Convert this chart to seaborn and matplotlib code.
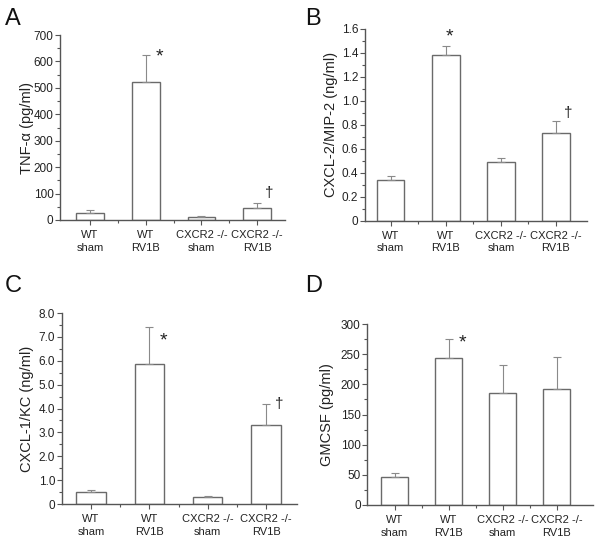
import matplotlib
matplotlib.use("Agg")
import matplotlib.pyplot as plt
import seaborn as sns
import pandas as pd
import numpy as np
from matplotlib.ticker import MultipleLocator, FixedLocator

sns.set_theme(style="ticks")
plt.rcParams['font.family'] = ['Liberation Sans', 'DejaVu Sans']

categories = ["WT\nsham", "WT\nRV1B", "CXCR2 -/-\nsham", "CXCR2 -/-\nRV1B"]

tnf_mean = [25, 522, 12, 45]
tnf_err = [12, 103, 2, 18]

cxcl2_mean = [0.34, 1.38, 0.49, 0.73]
cxcl2_err = [0.035, 0.075, 0.035, 0.105]

cxcl1_mean = [0.50, 5.85, 0.30, 3.33]
cxcl1_err = [0.07, 1.55, 0.02, 0.87]

gmcsf_mean = [47, 243, 186, 192]
gmcsf_err = [6, 32, 46, 53]

panels = [
    dict(letter="A", mean=tnf_mean, err=tnf_err, ylabel="TNF-\u03b1 (pg/ml)",
         ylim=700, major=100, minor=50, fmt=lambda v: f"{v:.0f}",
         rect=[0.100, 0.5956, 0.375, 0.340], xlim=(-0.54, 3.50),
         marks=[(1, 617, "*"), (3, 102, "\u2020")]),
    dict(letter="B", mean=cxcl2_mean, err=cxcl2_err, ylabel="CXCL-2/MIP-2 (ng/ml)",
         ylim=1.6, major=0.2, minor=0.1, fmt=lambda v: "0" if v == 0 else f"{v:.1f}",
         rect=[0.608, 0.594, 0.370, 0.3527], xlim=(-0.47, 3.56),
         marks=[(1, 1.53, "*"), (3, 0.90, "\u2020")]),
    dict(letter="C", mean=cxcl1_mean, err=cxcl1_err, ylabel="CXCL-1/KC (ng/ml)",
         ylim=8.0, major=1.0, minor=0.5, fmt=lambda v: "0" if v == 0 else f"{v:.1f}",
         rect=[0.103, 0.0735, 0.392, 0.351], xlim=(-0.50, 3.53),
         marks=[(1, 6.85, "*"), (3, 4.2, "\u2020")]),
    dict(letter="D", mean=gmcsf_mean, err=gmcsf_err, ylabel="GMCSF (pg/ml)",
         ylim=300, major=50, minor=25, fmt=lambda v: f"{v:.0f}",
         rect=[0.612, 0.0717, 0.376, 0.3327], xlim=(-0.51, 3.67),
         marks=[(1, 268, "*")]),
]

letter_pos = {"A": (0.008, 0.985), "B": (0.508, 0.985), "C": (0.008, 0.495), "D": (0.508, 0.495)}
ylab_x = {"A": 0.056, "B": 0.563, "C": 0.056, "D": 0.556}

fig = plt.figure(figsize=(6.0, 5.44), dpi=100)
axc = "#555555"
barc = "#6a6a6a"

for p in panels:
    ax = fig.add_axes(p["rect"])
    df = pd.DataFrame({"group": categories, "value": p["mean"]})
    sns.barplot(data=df, x="group", y="value", ax=ax, color="white",
                edgecolor=barc, linewidth=1.0, width=0.5, errorbar=None)
    x = np.arange(len(categories))
    ax.errorbar(x, p["mean"], yerr=[np.zeros(len(x)), p["err"]], fmt="none",
                ecolor="#8a8a8a", elinewidth=0.8, capsize=3, capthick=0.8)
    ax.set_xlim(*p["xlim"])
    ax.set_ylim(0, p["ylim"])
    ax.yaxis.set_minor_locator(MultipleLocator(p["minor"]))
    ticks = np.arange(0, p["ylim"] + p["major"] / 2, p["major"])
    ax.set_yticks(ticks)
    ax.set_yticklabels([p["fmt"](t) for t in ticks])
    ax.xaxis.set_minor_locator(FixedLocator([0.5, 1.5, 2.5]))
    for s in ["top", "right"]:
        ax.spines[s].set_visible(False)
    for s in ["left", "bottom"]:
        ax.spines[s].set_color(axc)
        ax.spines[s].set_linewidth(1.0)
    ax.tick_params(axis="both", which="major", length=3.5, width=0.8, color=axc,
                   labelcolor="#222222", direction="out")
    ax.tick_params(axis="y", which="major", labelsize=8.5, pad=1.2)
    ax.tick_params(axis="x", which="major", labelsize=8, pad=3.5)
    ax.tick_params(axis="both", which="minor", length=2.2, width=0.8, color=axc, direction="out")
    for lab in ax.get_xticklabels():
        lab.set_linespacing(1.35)
    ax.set_xlabel("")
    ax.set_ylabel(p["ylabel"], fontsize=10.5, color="#222222")
    ax.yaxis.set_label_coords(ylab_x[p["letter"]], p["rect"][1] + p["rect"][3] / 2,
                              transform=fig.transFigure)
    for (i, yv, sym) in p["marks"]:
        off = 0.25 if sym == "*" else 0.22
        if p["letter"] == "B" and sym == "*":
            off = 0.07
        ax.text(i + off, yv, sym, ha="center", va="center",
                fontsize=14 if sym == "*" else 11, color="#222222")
    lx, ly = letter_pos[p["letter"]]
    fig.text(lx, ly, p["letter"], fontsize=17, color="#111111", ha="left", va="top")

fig.savefig("out.png", dpi=100)
